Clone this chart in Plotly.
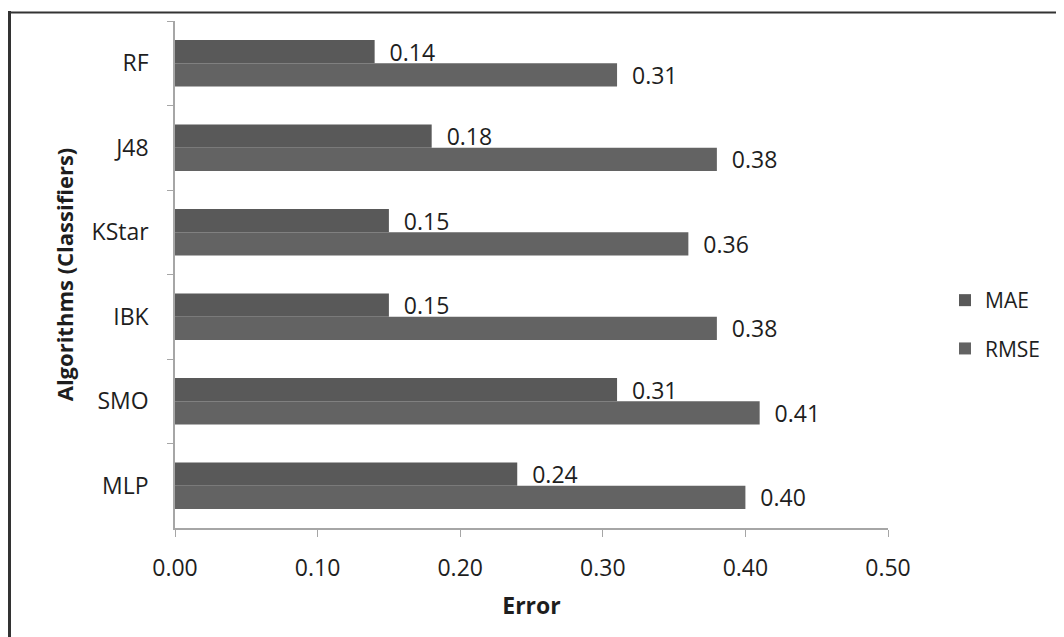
import plotly.graph_objects as go

categories = ["RF", "J48", "KStar", "IBK", "SMO", "MLP"]
mae = [0.14, 0.18, 0.15, 0.15, 0.31, 0.24]
rmse = [0.31, 0.38, 0.36, 0.38, 0.41, 0.40]
x_ticks = [0.0, 0.1, 0.2, 0.3, 0.4, 0.5]
x_ticklabels = ["0.00", "0.10", "0.20", "0.30", "0.40", "0.50"]

FONT = "'Open Sans', sans-serif"
FS = 23
TXT = "#1e1e1e"
# page body has an 8px margin, so the figure is drawn offset by 8px
OFF = 8
W, H = 1064 - OFF, 637 - OFF
L, T = 175 - OFF, 21 - OFF
R = W - (888 - OFF)
B = H - (528 - OFF)

fig = go.Figure()
fig.add_trace(go.Bar(
    y=categories, x=mae, name="MAE", orientation="h",
    marker=dict(color="#595959", line=dict(width=0)),
    text=[f"\u00a0\u00a0{v:.2f}" for v in mae], textposition="outside",
    constraintext="none",
    textfont=dict(size=FS, color=TXT, family=FONT), cliponaxis=False,
    legendgroup="a",
))
fig.add_trace(go.Bar(
    y=categories, x=rmse, name="RMSE", orientation="h",
    marker=dict(color="#636363", line=dict(width=0)),
    text=[f"\u00a0\u00a0{v:.2f}" for v in rmse], textposition="outside",
    constraintext="none",
    textfont=dict(size=FS, color=TXT, family=FONT), cliponaxis=False,
    legendgroup="b",
))

pw = W - L - R
ph = H - T - B
def px_x(p):
    return (p - OFF - L) / pw
def px_y(p):
    return (H - B - (p - OFF)) / ph

fig.update_layout(
    width=W, height=H,
    margin=dict(l=L, r=R, t=T, b=B, autoexpand=False),
    paper_bgcolor="white", plot_bgcolor="white",
    barmode="group", bargap=0.45, bargroupgap=0,
    font=dict(family=FONT, size=FS, color=TXT),
    showlegend=True,
    legend=dict(x=px_x(945), y=px_y(280), xanchor="left", yanchor="top",
                font=dict(size=21, family=FONT, color=TXT),
                tracegroupgap=18, itemwidth=30, bgcolor="rgba(0,0,0,0)"),
    xaxis=dict(range=[0, 0.5], tickvals=x_ticks, ticktext=x_ticklabels,
               showgrid=False, zeroline=False, showline=True, linecolor="#a6a6a6",
               linewidth=1.5, ticks="outside", ticklen=7, tickcolor="#a6a6a6",
               ticklabelstandoff=12,
               tickfont=dict(size=FS, family=FONT, color=TXT),
               title=dict(text="<b>Error</b>", font=dict(size=FS, family=FONT, color=TXT), standoff=16)),
    yaxis=dict(autorange="reversed", showgrid=False, zeroline=False, showline=True,
               linecolor="#a6a6a6", linewidth=1.5, ticks="outside", ticklen=6,
               tickcolor="#a6a6a6", tickson="boundaries", ticklabelstandoff=20,
               tickfont=dict(size=FS, family=FONT, color=TXT),
               title=dict(text="<b>Algorithms (Classifiers)</b>",
                          font=dict(size=22, family=FONT, color=TXT), standoff=12)),
    shapes=[
        dict(type="line", xref="paper", yref="paper", x0=px_x(9.5), x1=px_x(9.5),
             y0=px_y(11), y1=px_y(650), line=dict(color="#333", width=3)),
        dict(type="line", xref="paper", yref="paper", x0=px_x(8), x1=px_x(1080),
             y0=px_y(12.5), y1=px_y(12.5), line=dict(color="#333", width=2)),
    ],
)

fig.write_html("out.html")
